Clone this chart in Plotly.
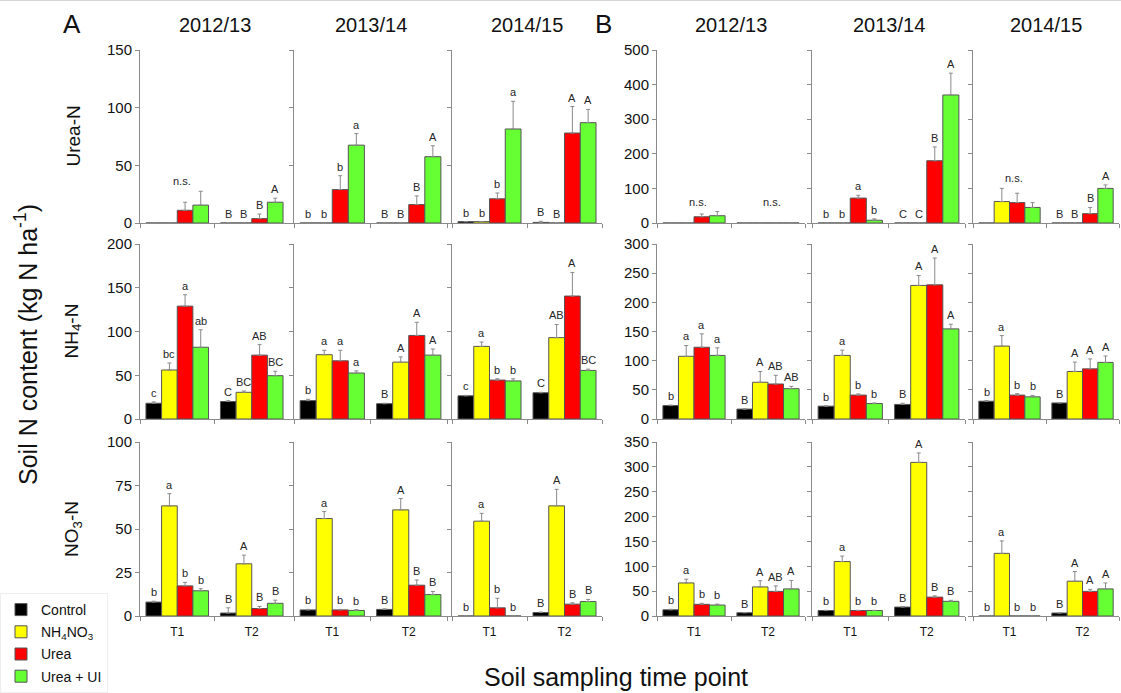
import plotly.graph_objects as go

# ---------------- data ----------------
YEARS = ["2012/13", "2013/14", "2014/15"]
TIMES = ["T1", "T2"]
TREATMENTS = ["Control", "NH<sub>4</sub>NO<sub>3</sub>", "Urea", "Urea + UI"]
ROW_LABELS = ["Urea-N", "NH<sub>4</sub>-N", "NO<sub>3</sub>-N"]

# values indexed [year][time][treatment]
A_UREA_MEAN = [[[0, 0, 11, 15.5], [0, 0, 3.8, 18]],
               [[0, 0, 29, 67.5], [0, 0, 16, 57.5]],
               [[1.2, 1.2, 21, 81.5], [0.5, 0, 78, 87]]]
A_UREA_ERR = [[[0, 0, 7, 12], [0, 0, 4, 3.5]],
              [[0, 0, 12, 10], [0, 0, 7.5, 9.5]],
              [[0, 0, 5, 24], [1, 0, 23, 11.5]]]
A_UREA_LET = [["n.s.", ["B", "B", "B", "A"]],
              [["b", "b", "b", "a"], ["B", "B", "B", "A"]],
              [["b", "b", "b", "a"], ["B", "B", "A", "A"]]]

A_NH4_MEAN = [[[18, 56, 129, 82], [20, 30.5, 73, 49.5]],
              [[21, 73.5, 66.5, 52.5], [17.5, 65, 95.5, 73]],
              [[26.5, 83, 44.5, 43.5], [30, 93, 140.5, 55.5]]]
A_NH4_ERR = [[[1.5, 8, 13, 20], [1, 1.5, 12, 5]],
             [[1.5, 5, 12, 2.5], [0.5, 6, 15, 7]],
             [[0.5, 5, 1.5, 2.5], [0.5, 15, 27, 1.5]]]
A_NH4_LET = [[["c", "bc", "a", "ab"], ["C", "BC", "AB", "BC"]],
             [["b", "a", "a", "a"], ["B", "A", "A", "A"]],
             [["c", "a", "b", "b"], ["C", "AB", "A", "BC"]]]

A_NO3_MEAN = [[[8, 63.3, 17.3, 14.5], [1.7, 30, 4.3, 7.3]],
              [[3.5, 56, 3.5, 3.2], [3.8, 61, 17.7, 12.3]],
              [[0, 54.5, 4.7, 0], [2, 63.3, 6.8, 8.3]]]
A_NO3_ERR = [[[0.5, 7, 2, 1.2], [3, 5, 1.2, 1.8]],
             [[0.3, 4, 0.3, 0.5], [0.3, 6.5, 3, 1.8]],
             [[0, 4.5, 5.5, 0], [0.3, 9.5, 0.8, 1.2]]]
A_NO3_LET = [[["b", "a", "b", "b"], ["B", "A", "B", "B"]],
             [["b", "a", "b", "b"], ["B", "A", "B", "B"]],
             [["b", "a", "b", "b"], ["B", "A", "B", "B"]]]

B_UREA_MEAN = [[[0, 0, 18, 21], [0, 0, 0, 0]],
               [[0, 0, 72, 8], [0, 0, 180, 370]],
               [[0, 62, 59, 45], [0, 0, 27, 100]]]
B_UREA_ERR = [[[0, 0, 8, 12], [0, 0, 0, 0]],
              [[0, 0, 8, 4], [0, 0, 40, 63]],
              [[0, 38, 27, 14], [0, 0, 18, 10]]]
B_UREA_LET = [["n.s.", "n.s."],
              [["b", "b", "a", "b"], ["C", "C", "B", "A"]],
              ["n.s.", ["B", "B", "B", "A"]]]

B_NH4_MEAN = [[[23, 107.5, 123, 109], [17, 63, 60, 52]],
              [[22, 109, 41, 26.5], [25, 229, 230, 154.5]],
              [[30.5, 125, 41, 38], [27.5, 81.5, 86, 97]]]
B_NH4_ERR = [[[1, 18.5, 23, 13], [0.5, 18.5, 15, 4]],
             [[0.5, 9, 2, 1], [2, 17, 46, 8]],
             [[1, 18, 2.5, 2.5], [0.5, 16, 17, 11]]]
B_NH4_LET = [[["b", "a", "a", "a"], ["B", "A", "AB", "AB"]],
             [["b", "a", "b", "b"], ["B", "A", "A", "A"]],
             [["b", "a", "b", "b"], ["B", "A", "A", "A"]]]

B_NO3_MEAN = [[[12.5, 66.5, 23.5, 22], [6.5, 58.5, 49.5, 54.5]],
              [[11, 109.5, 11, 11], [18, 309, 38, 29.5]],
              [[0, 126, 0, 0], [6, 70, 49.5, 54.5]]]
B_NO3_ERR = [[[1, 7.5, 2, 2], [0.5, 12.5, 11, 17]],
             [[0.5, 11, 0.5, 0.5], [1, 19, 2.5, 2]],
             [[0, 25, 0, 0], [0.5, 19.5, 4, 12]]]
B_NO3_LET = [[["b", "a", "b", "b"], ["B", "A", "AB", "A"]],
             [["b", "a", "b", "b"], ["B", "A", "B", "B"]],
             [["b", "a", "b", "b"], ["B", "A", "A", "A"]]]

A_YMAX = [150, 200, 100]
A_DTICK = [50, 50, 25]
B_YMAX = [500, 300, 350]
B_DTICK = [100, 50, 50]

# ---------------- style / layout ----------------
COLORS = ["#000000", "#FFFF00", "#FF0000", "#66FF33"]
FONT = "Arial, Liberation Sans, sans-serif"
W, H = 1121, 693
ROW_PX = [(50, 223), (244, 419), (442, 616)]
COL_PX = [(140, 289), (294, 447), (452, 602), (657, 805), (812, 965), (973, 1119)]
AXC = "#8a8a8a"
TXT = "#111111"
LETC = "#262626"
BARGAP = 0.16


def px_x(p):
    return p / W


def px_y(p):
    return 1 - p / H


panels = {
    "A": ([(A_UREA_MEAN, A_UREA_ERR, A_UREA_LET), (A_NH4_MEAN, A_NH4_ERR, A_NH4_LET),
           (A_NO3_MEAN, A_NO3_ERR, A_NO3_LET)], A_YMAX, A_DTICK, 0),
    "B": ([(B_UREA_MEAN, B_UREA_ERR, B_UREA_LET), (B_NH4_MEAN, B_NH4_ERR, B_NH4_LET),
           (B_NO3_MEAN, B_NO3_ERR, B_NO3_LET)], B_YMAX, B_DTICK, 3),
}

fig = go.Figure()
layout = {}
annotations = []
bw = (1 - BARGAP) / 4
offsets = [-(1 - BARGAP) / 2 + bw * (i + 0.5) for i in range(4)]


def paper_text(x, y, text, size, angle=0):
    return dict(x=px_x(x), y=px_y(y), xref="paper", yref="paper", text=text,
                textangle=angle, showarrow=False, xanchor="center", yanchor="middle",
                font=dict(size=size, color=TXT, family=FONT))


idx = 0
for pname, (rows, ymaxes, dticks, col0) in panels.items():
    for r, (means, errs, lets) in enumerate(rows):
        for c in range(3):
            idx += 1
            xa = "x" if idx == 1 else f"x{idx}"
            ya = "y" if idx == 1 else f"y{idx}"
            xkey = "xaxis" if idx == 1 else f"xaxis{idx}"
            ykey = "yaxis" if idx == 1 else f"yaxis{idx}"
            cx0, cx1 = COL_PX[col0 + c]
            ry0, ry1 = ROW_PX[r]
            layout[xkey] = dict(
                domain=[px_x(cx0), px_x(cx1)], anchor=ya, type="category",
                range=[-0.5, 1.5], showline=True, linecolor=AXC, linewidth=1,
                ticks="outside", tickson="boundaries", ticklen=4, tickcolor=AXC,
                showticklabels=(r == 2), ticklabelstandoff=5,
                tickfont=dict(size=12, color=TXT, family=FONT),
                showgrid=False, zeroline=False, fixedrange=True, automargin=False,
            )
            layout[ykey] = dict(
                domain=[px_y(ry1), px_y(ry0)], anchor=xa, range=[0, ymaxes[r]],
                dtick=dticks[r], tick0=0, showline=True, linecolor=AXC, linewidth=1,
                ticks="outside", ticklen=4, tickcolor=AXC,
                showticklabels=(c == 0), tickfont=dict(size=15, color=TXT, family=FONT),
                showgrid=False, zeroline=False, fixedrange=True, automargin=False,
            )
            m = means[c]
            e = errs[c]
            for i in range(4):
                yv = [m[t][i] for t in range(2)]
                ev = [e[t][i] if e[t][i] > 0 else None for t in range(2)]
                fig.add_trace(go.Bar(
                    x=TIMES, y=yv, name=TREATMENTS[i], xaxis=xa, yaxis=ya,
                    marker=dict(color=COLORS[i], line=dict(color="#555555", width=1)),
                    error_y=dict(type="data", array=ev, symmetric=False,
                                 arrayminus=[0, 0], color="#8a8a8a",
                                 thickness=1, width=2),
                    showlegend=(idx == 1), legendgroup=TREATMENTS[i],
                ))
            # significance letters
            sub_max = max(m[t][i] + e[t][i] for t in range(2) for i in range(4))
            for t in range(2):
                lt = lets[c][t]
                if lt == "n.s.":
                    gmax = max(m[t][i] + e[t][i] for i in range(4))
                    if gmax == 0:
                        gmax = sub_max
                    annotations.append(dict(
                        x=t + 0.06, y=gmax, xref=xa, yref=ya, text="n.s.",
                        showarrow=False, xanchor="center", yanchor="bottom", yshift=2,
                        font=dict(size=11, color=LETC, family=FONT)))
                else:
                    for i in range(4):
                        if lt[i]:
                            annotations.append(dict(
                                x=t + offsets[i], y=m[t][i] + e[t][i], xref=xa, yref=ya,
                                text=lt[i], showarrow=False, xanchor="center",
                                yanchor="bottom", yshift=1,
                                font=dict(size=11, color=LETC, family=FONT)))

# column titles
for k, cp in enumerate(COL_PX):
    annotations.append(paper_text((cp[0] + cp[1]) / 2, 25, YEARS[k % 3], 20))
# panel letters
annotations.append(paper_text(72, 24, "A", 26))
annotations.append(paper_text(603, 24, "B", 26))
# row labels
for r, lab in enumerate(ROW_LABELS):
    annotations.append(paper_text(73, (ROW_PX[r][0] + ROW_PX[r][1]) / 2, lab, 19, -90))
# axis titles
annotations.append(paper_text(26, 345, "Soil N content (kg N ha<sup>-1</sup>)", 25, -90))
annotations.append(paper_text(616, 677, "Soil sampling time point", 25))

fig.update_layout(
    template="none",
    width=W, height=H, margin=dict(l=0, r=0, t=0, b=0, autoexpand=False),
    paper_bgcolor="white", plot_bgcolor="white",
    barmode="group", bargap=BARGAP, bargroupgap=0,
    font=dict(family=FONT, color=TXT),
    annotations=annotations,
    shapes=[dict(type="line", xref="paper", yref="paper", x0=0, x1=1, y0=1, y1=1,
                 line=dict(color="#d6d6d6", width=2))],
    legend=dict(x=0.0, y=0.0, xanchor="left", yanchor="bottom",
                font=dict(size=14, color=TXT, family=FONT),
                bgcolor="white", bordercolor="#eeeeee", borderwidth=1,
                tracegroupgap=1, itemwidth=30),
    **layout,
)

fig.write_html("out.html")
